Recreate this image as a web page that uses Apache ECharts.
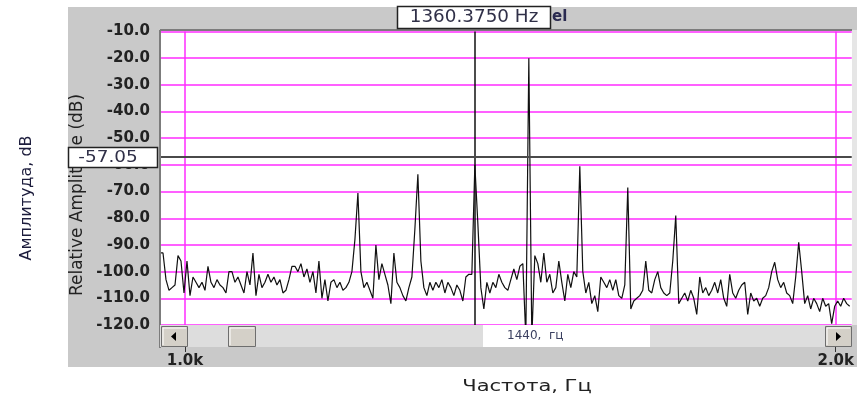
<!DOCTYPE html>
<html><head><meta charset="utf-8">
<script src="https://cdn.jsdelivr.net/npm/echarts@6/dist/echarts.min.js"></script>
<style>html,body{margin:0;padding:0;background:#fff}#c{width:857px;height:411px}</style>
</head><body><div id="c"></div>
<script>
// ---- data ----
const F_START = 961.6;   // Hz at left edge of plot
const F_STEP = 4.608;    // Hz between samples
const amplitudeDb = [
 -93,-93,-103,-107,-106,-105,-94,-96,-108,-96,-109,-102,-104,-106,-104,-107,-98,-104,-106,-103,
 -105,-106,-108,-100,-100,-104,-102,-105,-108,-100,-105,-93,-109,-101,-106,-104,-101,-104,-102,-105,
 -103,-108,-107,-103,-98,-98,-100,-97,-102,-99,-104,-100,-108,-96,-110,-103,-111,-104,
 -103,-106,-104,-107,-106,-104,-100,-88,-70.5,-100,-106,-104,-107,-110,-90,-103,-97,-101,-105,-112,
 -93,-104,-106,-109,-111,-106,-102,-84,-63.5,-96,-106,-109,-104,-107,-104,-106,-103,-108,-104,-106,
 -109,-105,-107,-111,-102,-101,-101,-60,-82,-106,-114,-104,-108,-104,-106,-101,-104,-106,
 -107,-103,-99,-103,-98,-97,-125,-20,-125,-94,-97,-104,-93,-104,-101,-108,-106,-96,-104,-111,
 -101,-106,-100,-102,-60.5,-100,-108,-104,-112,-109,-115,-102,-104,-106,-103,-107,-103,-109,-110,-105,
 -68.5,-114,-111,-110,-109,-107,-96,-107,-108,-103,-100,-106,-108,-109,-108,-96,-79,-112,
 -110,-108,-111,-107,-110,-116,-102,-108,-106,-109,-107,-104,-108,-103,-110,-113,-101,-108,-110,-107,
 -105,-104,-116,-108,-111,-110,-113,-110,-109,-106,-100,-96.5,-103,-106,-104,-108,-109,-112,-102,-89,
 -100,-112,-109,-114,-110,-112,-115,-110,-113,-112,-119.5,-113,-111,-113,-110,-112,-113
];
const xTickValues = [1000, 2000];
const xTickLabels = ['1.0k', '2.0k'];
const cursorFreq = 1445.5;
const cursorLevel = -57.05;
const cursorFreqLabel = '1360.3750 Hz';
const cursorLevelLabel = '-57.05';
const scrollLabel = '1440,  гц';
const yTitleOuter = 'Амплитуда, dB';
const yTitleInner = 'Relative Amplitude (dB)';
const xTitle = 'Частота, Гц';

const freqs = amplitudeDb.map((_, i) => F_START + F_STEP * i);
const seriesData = freqs.map((f, i) => [f, amplitudeDb[i]]);

const MAG = '#ff2bff';
const chart = echarts.init(document.getElementById('c'), null, {renderer: 'canvas'});

function bevelButton(x, y, w, h, z) {
  return [
    {type:'rect', z, shape:{x, y, width:w, height:h}, style:{fill:'#d4d0c8', stroke:'#6e6e6e', lineWidth:1}},
    {type:'polyline', z, shape:{points:[[x+1.5,y+h-1.5],[x+1.5,y+1.5],[x+w-1.5,y+1.5]]}, style:{stroke:'#ffffff', lineWidth:1, fill:null}}
  ];
}

const graphics = [
  // panel background
  {type:'rect', z:-2, shape:{x:68, y:7, width:789, height:360}, style:{fill:'#c9c9c9'}},
  {type:'rect', z:-1, shape:{x:160, y:30, width:692, height:295}, style:{fill:'#ffffff'}},
  {type:'rect', z:-1, shape:{x:852, y:30, width:5, height:295}, style:{fill:'#e6e6e6'}},
  // frame lines
  {type:'line', z:100, shape:{x1:160, y1:30, x2:852, y2:30}, style:{stroke:'#7c7c7c', lineWidth:2}},
  {type:'line', z:100, shape:{x1:160, y1:30, x2:160, y2:348}, style:{stroke:'#7c7c7c', lineWidth:2}},
  // inner y title
  {type:'text', z:50, x:78, y:195, rotation:Math.PI/2,
   style:{text:yTitleInner, fill:'#222', font:'17px "DejaVu Sans"', textAlign:'center', textVerticalAlign:'middle', verticalAlign:'middle'}},
  // outer y title
  {type:'text', z:50, x:27, y:198, rotation:Math.PI/2,
   style:{text:yTitleOuter, fill:'#1c1c3c', font:'16px "DejaVu Sans"', textAlign:'center', textVerticalAlign:'middle', verticalAlign:'middle'}},
  // x title
  {type:'text', z:50, x:527, y:387, scaleX:1.4,
   style:{text:xTitle, fill:'#222', font:'15px "DejaVu Sans"', textAlign:'center', textVerticalAlign:'middle', verticalAlign:'middle'}},
  // level cursor box
  {type:'rect', z:110, shape:{x:68.5, y:147.5, width:89, height:20}, style:{fill:'#fff', stroke:'#222', lineWidth:1.5}},
  {type:'text', z:111, x:108, y:158, scaleX:1.15,
   style:{text:cursorLevelLabel, fill:'#303048', font:'16px "DejaVu Sans"', textAlign:'center', textVerticalAlign:'middle', verticalAlign:'middle'}},
  // freq cursor box
  {type:'rect', z:110, shape:{x:397.5, y:6.5, width:153, height:22}, style:{fill:'#fff', stroke:'#222', lineWidth:1.5}},
  {type:'text', z:111, x:474, y:18, scaleX:1.08,
   style:{text:cursorFreqLabel, fill:'#303048', font:'17px "DejaVu Sans"', textAlign:'center', textVerticalAlign:'middle', verticalAlign:'middle'}},
  {type:'text', z:105, x:552, y:17,
   style:{text:'el', fill:'#2a2a50', font:'bold 15px "DejaVu Sans"', textAlign:'left', textVerticalAlign:'middle', verticalAlign:'middle'}},
  // scrollbar
  {type:'rect', z:100, shape:{x:160, y:325, width:692, height:22}, style:{fill:'#dddddd'}},
  {type:'rect', z:101, shape:{x:483, y:325, width:167, height:22}, style:{fill:'#ffffff'}},
  {type:'text', z:102, x:507, y:336,
   style:{text:scrollLabel, fill:'#3b4060', font:'12px "DejaVu Sans"', textAlign:'left', textVerticalAlign:'middle', verticalAlign:'middle'}},
  ...bevelButton(161.5, 326.5, 26, 20, 102),
  ...bevelButton(228.5, 326.5, 27, 20, 102),
  ...bevelButton(825.5, 326.5, 26, 20, 102),
  {type:'polygon', z:103, shape:{points:[[171,336.5],[176,332],[176,341]]}, style:{fill:'#000'}},
  {type:'polygon', z:103, shape:{points:[[841,336.5],[836,332],[836,341]]}, style:{fill:'#000'}}
];

chart.setOption({
  animation: false,
  backgroundColor: '#ffffff',
  grid: {left:160, right:5, top:31.5, height:293.5, containLabel:false},
  xAxis: {
    type:'value', min:F_START, max:2024.6,
    axisLine:{show:false},
    axisTick:{show:true, customValues:xTickValues, length:27, lineStyle:{color:'#333', width:1}},
    splitLine:{show:true, lineStyle:{color:MAG, width:1.5}},
    axisLabel:{show:true, customValues:xTickValues, margin:29,
      formatter:(v)=>{const k = xTickValues.indexOf(Math.round(v)); return k>=0 ? xTickLabels[k] : '';},
      color:'#222', fontFamily:'DejaVu Sans', fontWeight:'bold', fontSize:15}
  },
  yAxis: {
    type:'value', min:-120, max:-10, interval:10,
    axisLine:{show:false}, axisTick:{show:false},
    splitLine:{show:true, lineStyle:{color:MAG, width:1.5}},
    axisLabel:{margin:10, formatter:(v)=>v.toFixed(1), color:'#222', fontFamily:'DejaVu Sans', fontWeight:'bold', fontSize:15}
  },
  series: [{
    type:'line', data:seriesData, showSymbol:false, symbol:'none', z:3, clip:true,
    lineStyle:{color:'#111', width:1.2},
    markLine:{
      silent:true, symbol:['none','none'], label:{show:false},
      data:[
        {xAxis:cursorFreq, lineStyle:{color:'#111', width:1.5, type:'solid'}},
        {yAxis:cursorLevel, lineStyle:{color:'#4a4a4a', width:2, type:'solid'}}
      ]
    }
  }],
  graphic: graphics
});
</script></body></html>
